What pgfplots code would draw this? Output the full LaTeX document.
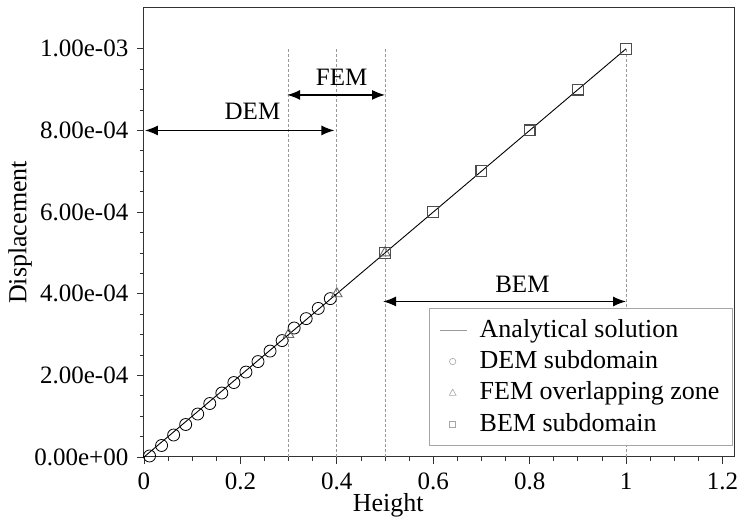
\documentclass[border=0pt]{standalone}
\usepackage{pgfplots}
\pgfplotsset{compat=1.18}
\usepackage{fontspec}
\setmainfont{Liberation Serif}
\usetikzlibrary{arrows.meta}

\begin{document}
\fontsize{12.5}{14}\selectfont
\begin{tikzpicture}
\begin{axis}[
    name=ax,
    scale only axis, width=295pt, height=224.5pt,
    xmin=0, xmax=1.224, ymin=0, ymax=1.1e-3,
    xtick={0,0.2,0.4,0.6,0.8,1,1.2},
    xticklabels={0,0.2,0.4,0.6,0.8,1,1.2},
    ytick={0,2e-4,4e-4,6e-4,8e-4,1e-3},
    yticklabels={0.00e+00,2.00e-04,4.00e-04,6.00e-04,8.00e-04,1.00e-03},
    minor x tick num=3, minor y tick num=3,
    tick align=outside, xtick pos=bottom, ytick pos=left,
    major tick length=3.5pt, minor tick length=2pt,
    every tick/.style={black!80, line width=0.4pt},
    axis line style={black!80, line width=0.5pt},
    scaled y ticks=false,
    ticklabel style={font=\fontsize{12.5}{14}\selectfont},
    xlabel={Height}, ylabel={Displacement},
    xlabel style={at={(axis description cs:0.414,-0.107)}, anchor=center},
    ylabel style={at={(axis description cs:-0.21,0.5)}, anchor=center, rotate=0},
    label style={font=\fontsize{13}{14}\selectfont},
    legend cell align=left,
    legend style={at={(0.998,0.024)}, anchor=south east, draw=gray!70,
        font=\fontsize{13}{13}\selectfont, row sep=1.7pt,
        inner xsep=5pt, inner ysep=4pt,
        nodes={inner sep=1.5pt}},
    clip=false,
]
% guide lines
\addplot[gray!80, dash pattern=on 1.5pt off 1pt, line width=0.35pt, forget plot] coordinates {(0.3,0) (0.3,1e-3)};
\addplot[gray!80, dash pattern=on 1.5pt off 1pt, line width=0.35pt, forget plot] coordinates {(0.4,0) (0.4,1e-3)};
\addplot[gray!80, dash pattern=on 1.5pt off 1pt, line width=0.35pt, forget plot] coordinates {(0.5,0) (0.5,1e-3)};
\addplot[gray!80, dash pattern=on 1.5pt off 1pt, line width=0.35pt, forget plot] coordinates {(1.0,0) (1.0,1e-3)};

% analytical solution
\addplot[black, line width=0.45pt, forget plot] coordinates {(0,0) (1,1e-3)};

% DEM subdomain
\addplot[only marks, mark=o, mark size=3pt, mark options={black, line width=0.4pt}, forget plot] coordinates {
(0.0115,0.0000025) (0.0365,0.0000282) (0.0615,0.0000539) (0.0865,0.0000796)
(0.1115,0.0001053) (0.1365,0.0001310) (0.1615,0.0001567) (0.1865,0.0001824)
(0.2115,0.0002081) (0.2365,0.0002338) (0.2615,0.0002595) (0.2865,0.0002852)
(0.3115,0.0003160) (0.3365,0.0003390) (0.3615,0.0003640) (0.3865,0.0003880)
};

% FEM overlapping zone
\addplot[only marks, mark=triangle, mark size=3pt, mark options={black!60, line width=0.45pt}, forget plot] coordinates {
(0.3,0.0003) (0.4,0.0004) (0.5,0.0005)
};

% BEM subdomain
\addplot[only marks, mark=square, mark size=2.7pt, mark options={black!70, line width=0.6pt}, forget plot] coordinates {
(0.5,0.0005) (0.6,0.0006) (0.7,0.0007) (0.8,0.0008) (0.9,0.0009) (1.0,0.001)
};

% legend entries
\addlegendimage{legend image code/.code={\draw[gray!80, line width=0.4pt] (0pt,0pt) -- (13.5pt,0pt); \path[draw=none] (0pt,0pt) -- (18.5pt,0pt);}}
\addlegendentry{Analytical solution}
\addlegendimage{legend image code/.code={\draw[gray!70, line width=0.3pt] (6.5pt,0pt) circle (1.6pt); \path[draw=none] (0pt,0pt) -- (18.5pt,0pt);}}
\addlegendentry{DEM subdomain}
\addlegendimage{legend image code/.code={\draw[gray!70, line width=0.3pt] (4.8pt,-1.3pt) -- (8.2pt,-1.3pt) -- (6.5pt,1.8pt) -- cycle; \path[draw=none] (0pt,0pt) -- (18.5pt,0pt);}}
\addlegendentry{FEM overlapping zone}
\addlegendimage{legend image code/.code={\draw[gray!70, line width=0.3pt] (5pt,-1.5pt) rectangle (8pt,1.5pt); \path[draw=none] (0pt,0pt) -- (18.5pt,0pt);}}
\addlegendentry{BEM subdomain}

% domain arrows
\draw[{Latex[length=6.5pt,width=5pt]}-{Latex[length=6.5pt,width=5pt]}, line width=0.6pt] (axis cs:0.002,8e-4) -- (axis cs:0.395,8e-4);
\node at (axis cs:0.225,8.46e-4) {DEM};
\draw[{Latex[length=6.5pt,width=5pt]}-{Latex[length=6.5pt,width=5pt]}, line width=0.6pt] (axis cs:0.297,8.87e-4) -- (axis cs:0.5,8.87e-4);
\node at (axis cs:0.41,9.29e-4) {FEM};
\draw[{Latex[length=6.5pt,width=5pt]}-{Latex[length=6.5pt,width=5pt]}, line width=0.6pt] (axis cs:0.496,3.81e-4) -- (axis cs:1.0,3.81e-4);
\node at (axis cs:0.785,4.22e-4) {BEM};
\end{axis}
\pgfresetboundingbox
\path (ax.south west) ++(-72pt,-30.5pt) coordinate (bbA);
\path (ax.north east) ++(2pt,4pt) coordinate (bbB);
\useasboundingbox (bbA) rectangle (bbB);
\end{tikzpicture}
\end{document}
